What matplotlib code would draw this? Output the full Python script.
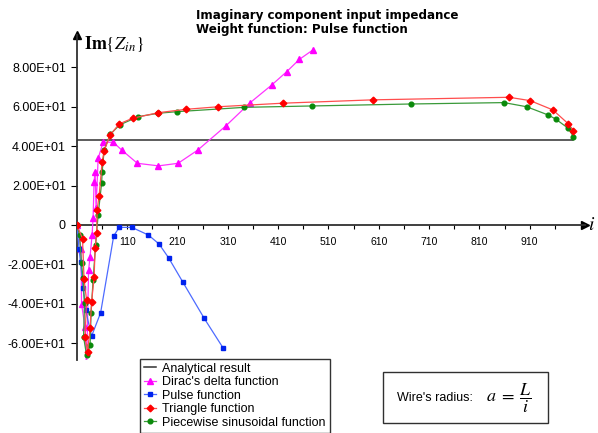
import matplotlib
matplotlib.use('Agg')
import matplotlib.pyplot as plt
from matplotlib.patches import Rectangle

plt.rcParams['font.family'] = ['Liberation Sans', 'DejaVu Sans']
plt.rcParams['mathtext.fontset'] = 'stix'

# analytical result (constant)
analytic_i = [10, 997]
analytic_v = [43.2, 43.2]

# Dirac's delta function
dirac_i = [10, 18, 19, 26, 29, 33, 36, 40, 42, 44, 46, 48, 52, 62, 82, 99, 130, 172, 211,
           250, 306, 354, 397, 427, 452, 480]
dirac_v = [0, -12, -40, -52, -75, -23, -16, -5, 3.4, 22, 27, 8.5, 33.8, 42, 42, 38, 31.3, 30,
           31.3, 38, 50.3, 62, 71, 77.8, 84, 89]

# Pulse function
pulse_i = [10, 14, 17, 22, 27, 39, 57, 83, 94, 119, 152, 173, 192, 220, 263, 300]
pulse_v = [0, -12, -19, -32, -43, -56.4, -44.5, -5.5, -1.2, -1.2, -5.1, -9.6, -16.6, -28.8,
           -47.4, -62.2]

# Triangle function
tri_i = [10, 21, 24, 29, 26, 31, 36, 39, 44, 46, 49, 50, 54, 60, 64, 76, 94, 121, 172, 227,
         291, 419, 598, 869, 911, 956, 987, 997]
tri_v = [0, -7, -27.6, -38, -56.7, -64.3, -52.5, -39, -26.6, -11.8, -4.2, 7.6, 14.9, 32,
         37.7, 45.7, 51.3, 54.2, 57, 58.7, 60, 61.8, 63.5, 64.8, 63.1, 58.4, 51.3, 47.9]

# Piecewise sinusoidal function
sin_i = [10, 15, 19, 22, 25, 23, 29, 36, 38, 42, 47, 52, 59, 60, 64, 76, 95, 132, 172, 209,
         343, 478, 675, 859, 904, 947, 962, 987, 997]
sin_v = [0, -5, -19.5, -27, -39.8, -56.7, -66, -61, -44.5, -28, -10, 5, 21.5, 27, 38, 46,
         50.8, 55, 56.7, 57.5, 59.7, 60.4, 61.4, 62.1, 60, 55.8, 53.7, 49, 44.8]

ytick_vals = [-60, -40, -20, 0, 20, 40, 60, 80]
xtick_vals = list(range(10, 1000, 50))

fig = plt.figure(figsize=(5.98, 4.33), dpi=100)
ax = fig.add_axes([77 / 598, 1 - 360 / 433, 508 / 598, 325 / 433])

ax.plot(analytic_i, analytic_v, color='#303030', lw=1.1, label='Analytical result', zorder=2)
ax.plot(dirac_i, dirac_v, color='#ff33ff', lw=0.9, marker='^', ms=5, mfc='#ff00ff',
        mec='#ff00ff', label="Dirac's delta function", zorder=3)
ax.plot(pulse_i, pulse_v, color='#4d6bff', lw=0.9, marker='s', ms=2.8, mfc='#0022ee',
        mec='#0022ee', label='Pulse function', zorder=3)
ax.plot(sin_i, sin_v, color='#3a9a3a', lw=0.9, marker='o', ms=3.4, mfc='#0a8a0a',
        mec='#0a8a0a', label='Piecewise sinusoidal function', zorder=4)
ax.plot(tri_i, tri_v, color='#ff4d4d', lw=0.9, marker='D', ms=3.4, mfc='#ff0000',
        mec='#ff0000', label='Triangle function', zorder=5)

ax.set_xlim(10, 1020)
ax.set_ylim(-68.5, 96.4)

for s in ['top', 'right']:
    ax.spines[s].set_visible(False)
ax.spines['bottom'].set_position(('data', 0))
ax.spines['left'].set_linewidth(1.3)
ax.spines['bottom'].set_linewidth(1.3)
ax.spines['left'].set_color('#303030')
ax.spines['bottom'].set_color('#303030')

ax.plot(1, 0, '>', color='black', ms=6, transform=ax.get_yaxis_transform(), clip_on=False)
ax.plot(10, 1, '^', color='black', ms=6, transform=ax.get_xaxis_transform(), clip_on=False)

ax.set_yticks(ytick_vals)
ax.set_yticklabels(['0' if v == 0 else f'{v:.2E}' for v in ytick_vals], fontsize=9)
ax.set_xticks(xtick_vals)
ax.set_xticklabels([str(t) if (t - 10) % 100 == 0 and t >= 110 else '' for t in xtick_vals],
                   fontsize=7.5)
ax.tick_params(axis='x', direction='out', length=3, width=0.8, pad=6)
ax.tick_params(axis='y', direction='out', length=4, width=0.8, pad=4)

fig.text(196 / 598, 1 - 15 / 433, 'Imaginary component input impedance', fontsize=8.6,
         family='DejaVu Sans', weight='bold', va='center', ha='left')
fig.text(196 / 598, 1 - 29 / 433, 'Weight function: Pulse function', fontsize=8.6,
         family='DejaVu Sans', weight='bold', va='center', ha='left')

fig.text(84 / 598, 1 - 44 / 433, r'$\mathbf{Im}\left\{Z_{in}\right\}$', fontsize=13,
         va='center', ha='left')
fig.text(588 / 598, 1 - 225 / 433, r'$i$', fontsize=14, va='center', ha='left')

handles, labels = ax.get_legend_handles_labels()
order = [0, 1, 2, 4, 3]
leg = fig.legend([handles[k] for k in order], [labels[k] for k in order],
                 loc='upper left', bbox_to_anchor=(140 / 598, 1 - 359 / 433),
                 fontsize=9, frameon=True, fancybox=False, edgecolor='black',
                 borderaxespad=0, handlelength=1.0, handletextpad=0.5,
                 labelspacing=0.12, borderpad=0.3)
leg.get_frame().set_linewidth(1.0)

fig.patches.append(Rectangle((383 / 598, 1 - 423 / 433), 165 / 598, 51 / 433,
                             transform=fig.transFigure, fill=False, edgecolor='#303030',
                             lw=1.0))
fig.text(397 / 598, 1 - 398 / 433, "Wire's radius:", fontsize=9, va='center', ha='left')
fig.text(486 / 598, 1 - 398 / 433, r'$a\;=\;\dfrac{L}{i}$', fontsize=13, va='center',
         ha='left')

fig.savefig('out.png', dpi=100)
